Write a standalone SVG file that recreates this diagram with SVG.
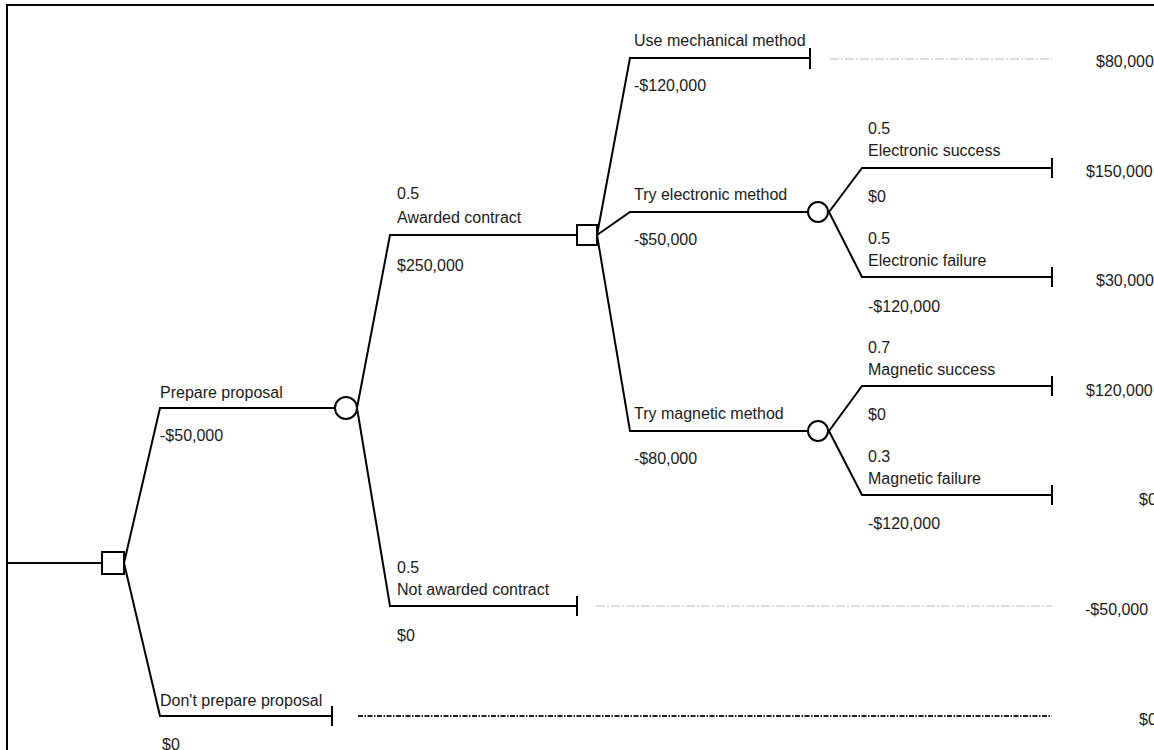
<svg xmlns="http://www.w3.org/2000/svg" width="1154" height="750" viewBox="0 0 1154 750">
  <style>
    .edge { fill: none; stroke: #000; stroke-width: 2; }
    .node { fill: #fff; stroke: #000; stroke-width: 2; }
    .lead-light { fill: none; stroke: #bdbdbd; stroke-width: 1; stroke-dasharray: 9 2 2 2; }
    .lead-dark { fill: none; stroke: #222; stroke-width: 1.8; stroke-dasharray: 5 1.5 1.5 1.5; }
    text { font-family: "Liberation Sans", Arial, sans-serif; font-size: 16px; fill: #1a1a1a; }
    .frame { fill: none; stroke: #000; stroke-width: 2; }
  </style>

  <rect width="1154" height="750" fill="#fff"/>
  <!-- frame -->
  <path class="frame" d="M7,750 V5 H1160"/>

  <!-- connectors -->
  <g id="connectors">
    <path class="edge" d="M7,563 H102"/>
    <path class="edge" d="M124,563 L160,408 H335"/>
    <path class="edge" d="M124,563 L160,716 H332 M332,706 V726"/>
    <path class="edge" d="M357,408 L390,235 H577"/>
    <path class="edge" d="M357,408 L390,606 H577 M577,596 V616"/>
    <path class="edge" d="M597,235 L630,58 H810 M810,48 V69"/>
    <path class="edge" d="M597,235 L630,212 H808"/>
    <path class="edge" d="M597,235 L630,431 H808"/>
    <path class="edge" d="M829,212 L862,168 H1052 M1052,158 V178"/>
    <path class="edge" d="M829,212 L862,277 H1052 M1052,267 V287"/>
    <path class="edge" d="M829,431 L862,386 H1052 M1052,376 V396"/>
    <path class="edge" d="M829,431 L862,495 H1052 M1052,485 V505"/>
    <path class="lead-light" d="M830,59 H1052"/>
    <path class="lead-light" d="M596,606 H1052"/>
    <path class="lead-dark" d="M358,716 H1052"/>
  </g>

  <!-- root decision -->
  <g id="decision-root">
    <rect class="node" x="102" y="552" width="22" height="22"/>
  </g>

  <g id="branch-prepare">
    <text x="160" y="398">Prepare proposal</text>
    <text x="160" y="441">-$50,000</text>
  </g>
  <g id="branch-dont-prepare">
    <text x="160" y="706">Don't prepare proposal</text>
    <text x="162" y="750">$0</text>
    <text x="1139" y="725">$0</text>
  </g>

  <!-- chance: contract award -->
  <g id="chance-award">
    <circle class="node" cx="346" cy="408" r="11"/>
  </g>
  <g id="branch-awarded">
    <text x="397" y="199">0.5</text>
    <text x="397" y="223">Awarded contract</text>
    <text x="397" y="271">$250,000</text>
  </g>
  <g id="branch-not-awarded">
    <text x="397" y="573">0.5</text>
    <text x="397" y="595">Not awarded contract</text>
    <text x="397" y="641">$0</text>
    <text x="1085" y="615">-$50,000</text>
  </g>

  <!-- decision: method -->
  <g id="decision-method">
    <rect class="node" x="577" y="225" width="20" height="20"/>
  </g>
  <g id="branch-mechanical">
    <text x="634" y="46">Use mechanical method</text>
    <text x="634" y="91">-$120,000</text>
    <text x="1096" y="67">$80,000</text>
  </g>
  <g id="branch-electronic">
    <text x="634" y="200">Try electronic method</text>
    <text x="634" y="245">-$50,000</text>
  </g>
  <g id="branch-magnetic">
    <text x="634" y="419">Try magnetic method</text>
    <text x="634" y="464">-$80,000</text>
  </g>

  <!-- chance: electronic -->
  <g id="chance-electronic">
    <circle class="node" cx="818" cy="212" r="10"/>
  </g>
  <g id="outcome-electronic-success">
    <text x="868" y="134">0.5</text>
    <text x="868" y="156">Electronic success</text>
    <text x="868" y="202">$0</text>
    <text x="1086" y="177">$150,000</text>
  </g>
  <g id="outcome-electronic-failure">
    <text x="868" y="244">0.5</text>
    <text x="868" y="266">Electronic failure</text>
    <text x="868" y="312">-$120,000</text>
    <text x="1096" y="286">$30,000</text>
  </g>

  <!-- chance: magnetic -->
  <g id="chance-magnetic">
    <circle class="node" cx="818" cy="431" r="10"/>
  </g>
  <g id="outcome-magnetic-success">
    <text x="868" y="353">0.7</text>
    <text x="868" y="375">Magnetic success</text>
    <text x="868" y="420">$0</text>
    <text x="1086" y="396">$120,000</text>
  </g>
  <g id="outcome-magnetic-failure">
    <text x="868" y="462">0.3</text>
    <text x="868" y="484">Magnetic failure</text>
    <text x="868" y="529">-$120,000</text>
    <text x="1139" y="505">$0</text>
  </g>
</svg>
